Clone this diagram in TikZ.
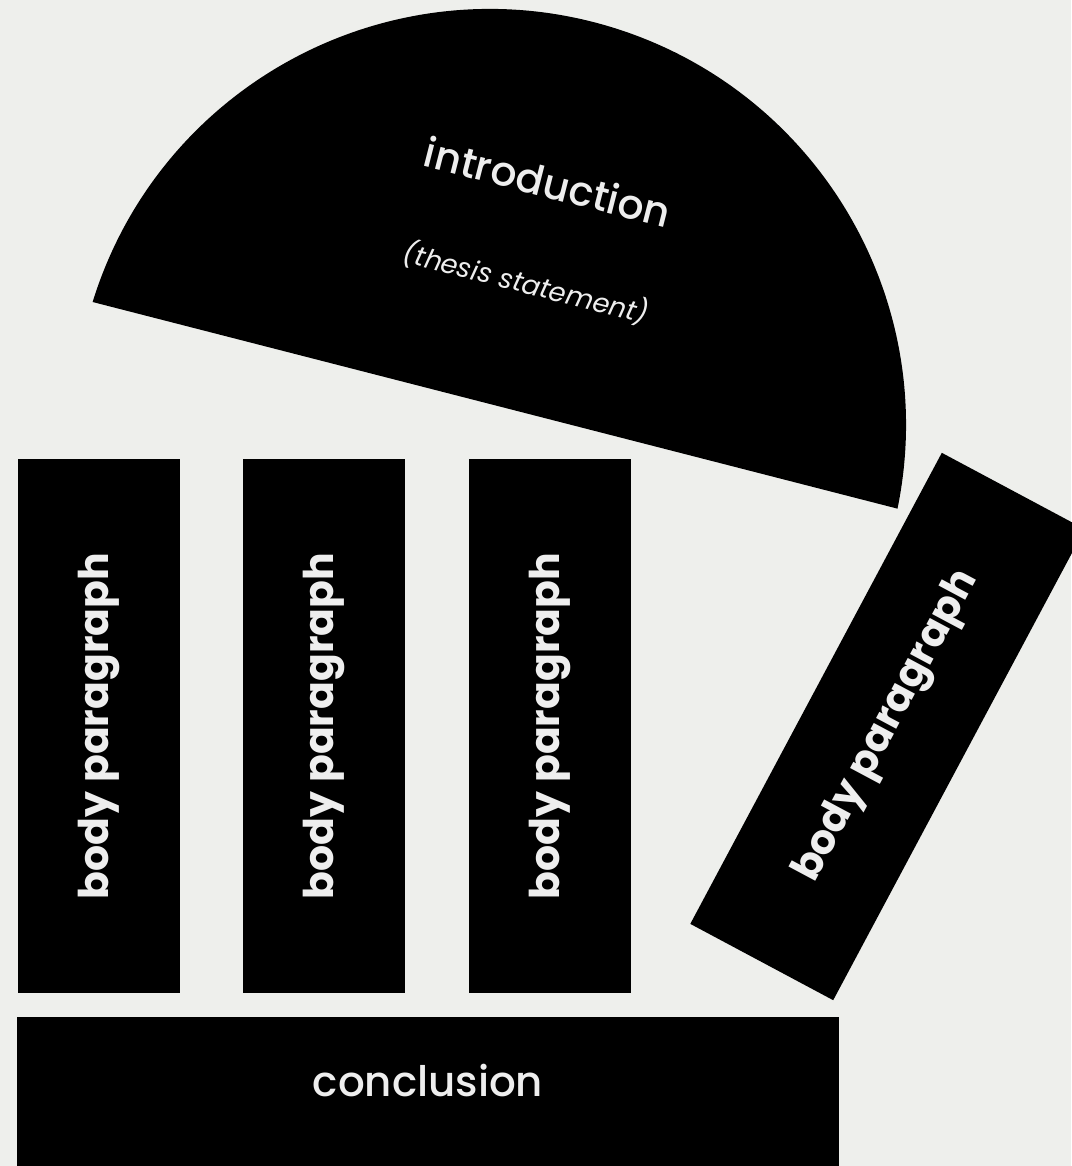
\documentclass[tikz,border=0pt]{standalone}
\usepackage{fontspec}
\setmainfont{Poppins}
\newfontfamily\medium{Poppins Medium}
\usepackage{tikz}
\definecolor{paper}{RGB}{238,239,236}
\definecolor{chalk}{RGB}{238,238,238}
\tikzset{
  slab/.style={fill=black, text=chalk, inner sep=0pt},
  bodybox/.style={slab, minimum width=534pt, minimum height=162pt, rotate=90,
    font=\fontsize{41}{44}\selectfont\bfseries},
  plain/.style={text=chalk, inner sep=0pt, rotate=-14.3}
}

\begin{document}
\begin{tikzpicture}[x=1pt,y=-1pt]
    \useasboundingbox (0,0) rectangle (1071,1166);
    \fill[paper] (0,0) rectangle (1071,1166);
    % intro cap
    \coordinate (capc) at (490,425);
    \fill (capc) ++(197.2:416) arc[start angle=197.2, end angle=371.6, radius=416] -- cycle;
    \node[plain, font=\fontsize{41}{44}\selectfont\medium] (intro) at (548,182) {introduction};
    \node[plain, font=\fontsize{27}{30}\selectfont\itshape] (thesis) at (526,283) {(thesis statement)};
    % body paragraphs
    \foreach \x/\lab in {99/b1, 323.5/b2, 550/b3} {
      \node[bodybox] (\lab) at (\x, 726) {body paragraph};
    }
    \node[bodybox, rotate=-28.1] (b4) at (887.5,726.5) {body paragraph};
    % conclusion
    \node[slab, minimum width=822pt, minimum height=149pt] (concl) at (428,1091.5) {};
    \node[plain, rotate=14.3, font=\fontsize{42}{46}\selectfont\medium] (concltext) at (428,1081) {conclusion};
\end{tikzpicture}
\end{document}
